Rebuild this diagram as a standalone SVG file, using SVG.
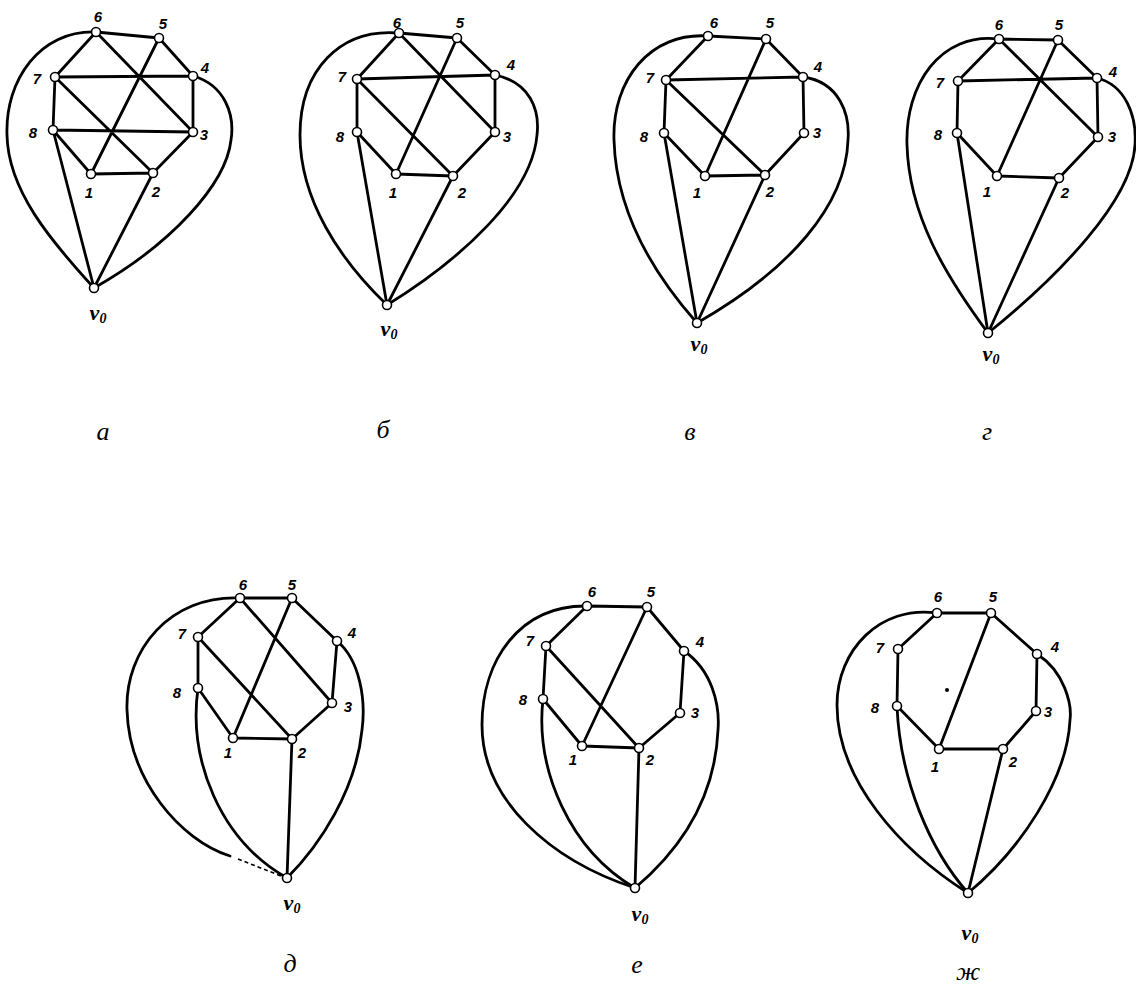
<svg xmlns="http://www.w3.org/2000/svg" width="1136" height="1004" viewBox="0 0 1136 1004">
<style>
.e{stroke:#000;stroke-width:2.8;fill:none;stroke-linecap:round}
.d{stroke:#000;stroke-width:1.6;fill:none;stroke-dasharray:4 3}
.node circle{fill:#fff;stroke:#000;stroke-width:1.6}
.node text{font-family:"Liberation Sans",Arial,sans-serif;font-style:italic;font-weight:bold;font-size:15px;text-anchor:middle;fill:#000}
.node text.v{font-family:"Liberation Serif","Times New Roman",serif;font-style:italic;font-weight:bold;font-size:22px;text-anchor:middle;fill:#000}
.cap{font-family:"Liberation Serif","Times New Roman",serif;font-style:italic;font-size:26px;text-anchor:middle;fill:#000}
</style>
<rect width="1136" height="1004" fill="#fff"/>

<!-- а -->
<g id="fig-a">
<g id="a-edges" class="connectors">
<path class="e" d="M96,32 L159,38 M96,32 L55,77 M96,32 L193,132 M159,38 L193,76 M159,38 L91,174 M55,77 L193,76 M55,77 L53,130 M55,77 L153,173 M53,130 L193,132 M53,130 L91,174 M53,130 L94,288 M193,76 L193,132 M193,132 L153,173 M91,174 L153,173 M153,173 L94,288"/>
<path class="e" d="M96,32 C40,30 5,80 7,135 C8,190 50,240 94,288"/>
<path class="e" d="M193,76 C225,85 235,115 231,140 C226,185 170,245 94,288"/>
</g>
<g id="a-n6" class="node"><circle cx="96" cy="32" r="4.5"/><text x="98" y="22">6</text></g>
<g id="a-n5" class="node"><circle cx="159" cy="38" r="4.5"/><text x="163" y="29">5</text></g>
<g id="a-n4" class="node"><circle cx="193" cy="76" r="4.5"/><text x="205" y="73">4</text></g>
<g id="a-n7" class="node"><circle cx="55" cy="77" r="4.5"/><text x="37" y="84">7</text></g>
<g id="a-n8" class="node"><circle cx="53" cy="130" r="4.5"/><text x="33" y="138">8</text></g>
<g id="a-n3" class="node"><circle cx="193" cy="132" r="4.5"/><text x="204" y="140">3</text></g>
<g id="a-n1" class="node"><circle cx="91" cy="174" r="4.5"/><text x="89" y="198">1</text></g>
<g id="a-n2" class="node"><circle cx="153" cy="173" r="4.5"/><text x="156" y="197">2</text></g>
<g id="a-v0" class="node"><circle cx="94" cy="288" r="4.5"/><text class="v" x="98" y="320">v<tspan font-size="14" dy="3">0</tspan></text></g>
<text class="cap" x="103" y="440">а</text>
</g>

<!-- б -->
<g id="fig-b">
<g id="b-edges" class="connectors">
<path class="e" d="M399,33 L457,38 M399,33 L357,79 M399,33 L495,132 M457,38 L495,75 M457,38 L396,174 M357,79 L495,75 M357,79 L357,132 M357,79 L453,176 M357,132 L396,174 M357,132 L387,305 M495,75 L495,132 M495,132 L453,176 M396,174 L453,176 M453,176 L387,305"/>
<path class="e" d="M399,33 C340,28 300,70 300,135 C300,200 340,260 387,305"/>
<path class="e" d="M495,75 C530,82 540,110 537,135 C532,195 460,260 387,305"/>
</g>
<g id="b-n6" class="node"><circle cx="399" cy="33" r="4.5"/><text x="397" y="28">6</text></g>
<g id="b-n5" class="node"><circle cx="457" cy="38" r="4.5"/><text x="460" y="28">5</text></g>
<g id="b-n4" class="node"><circle cx="495" cy="75" r="4.5"/><text x="511" y="70">4</text></g>
<g id="b-n7" class="node"><circle cx="357" cy="79" r="4.5"/><text x="342" y="82">7</text></g>
<g id="b-n8" class="node"><circle cx="357" cy="132" r="4.5"/><text x="340" y="142">8</text></g>
<g id="b-n3" class="node"><circle cx="495" cy="132" r="4.5"/><text x="507" y="142">3</text></g>
<g id="b-n1" class="node"><circle cx="396" cy="174" r="4.5"/><text x="393" y="198">1</text></g>
<g id="b-n2" class="node"><circle cx="453" cy="176" r="4.5"/><text x="462" y="198">2</text></g>
<g id="b-v0" class="node"><circle cx="387" cy="305" r="4.5"/><text class="v" x="389" y="336">v<tspan font-size="14" dy="3">0</tspan></text></g>
<text class="cap" x="383" y="438">б</text>
</g>

<!-- в -->
<g id="fig-v">
<g id="v-edges" class="connectors">
<path class="e" d="M708,36 L766,39 M708,36 L666,80 M766,39 L803,77 M766,39 L705,176 M666,80 L803,77 M666,80 L664,133 M666,80 L765,175 M664,133 L705,176 M664,133 L697,323 M803,77 L804,133 M804,133 L765,175 M705,176 L765,175 M765,175 L697,323"/>
<path class="e" d="M708,36 C650,32 612,80 614,140 C616,210 650,270 697,323"/>
<path class="e" d="M803,77 C840,82 850,115 848,140 C846,205 790,270 697,323"/>
</g>
<g id="v-n6" class="node"><circle cx="708" cy="36" r="4.5"/><text x="714" y="28">6</text></g>
<g id="v-n5" class="node"><circle cx="766" cy="39" r="4.5"/><text x="770" y="28">5</text></g>
<g id="v-n4" class="node"><circle cx="803" cy="77" r="4.5"/><text x="818" y="72">4</text></g>
<g id="v-n7" class="node"><circle cx="666" cy="80" r="4.5"/><text x="650" y="83">7</text></g>
<g id="v-n8" class="node"><circle cx="664" cy="133" r="4.5"/><text x="644" y="142">8</text></g>
<g id="v-n3" class="node"><circle cx="804" cy="133" r="4.5"/><text x="817" y="138">3</text></g>
<g id="v-n1" class="node"><circle cx="705" cy="176" r="4.5"/><text x="697" y="198">1</text></g>
<g id="v-n2" class="node"><circle cx="765" cy="175" r="4.5"/><text x="770" y="197">2</text></g>
<g id="v-v0" class="node"><circle cx="697" cy="323" r="4.5"/><text class="v" x="699" y="351">v<tspan font-size="14" dy="3">0</tspan></text></g>
<text class="cap" x="690" y="440">в</text>
</g>

<!-- г -->
<g id="fig-g">
<g id="g-edges" class="connectors">
<path class="e" d="M999,39 L1058,40 M999,39 L958,81 M999,39 L1098,137 M1058,40 L1097,78 M1058,40 L997,176 M958,81 L1097,78 M958,81 L957,133 M957,133 L997,176 M957,133 L988,333 M1097,78 L1098,137 M1098,137 L1059,178 M997,176 L1059,178 M1059,178 L988,333"/>
<path class="e" d="M999,39 C940,32 905,85 907,145 C909,215 945,275 988,333"/>
<path class="e" d="M1097,78 C1125,85 1137,115 1135,145 C1132,200 1060,275 988,333"/>
</g>
<g id="g-n6" class="node"><circle cx="999" cy="39" r="4.5"/><text x="999" y="30">6</text></g>
<g id="g-n5" class="node"><circle cx="1058" cy="40" r="4.5"/><text x="1059" y="30">5</text></g>
<g id="g-n4" class="node"><circle cx="1097" cy="78" r="4.5"/><text x="1113" y="77">4</text></g>
<g id="g-n7" class="node"><circle cx="958" cy="81" r="4.5"/><text x="940" y="88">7</text></g>
<g id="g-n8" class="node"><circle cx="957" cy="133" r="4.5"/><text x="938" y="140">8</text></g>
<g id="g-n3" class="node"><circle cx="1098" cy="137" r="4.5"/><text x="1112" y="142">3</text></g>
<g id="g-n1" class="node"><circle cx="997" cy="176" r="4.5"/><text x="987" y="197">1</text></g>
<g id="g-n2" class="node"><circle cx="1059" cy="178" r="4.5"/><text x="1065" y="198">2</text></g>
<g id="g-v0" class="node"><circle cx="988" cy="333" r="4.5"/><text class="v" x="991" y="361">v<tspan font-size="14" dy="3">0</tspan></text></g>
<text class="cap" x="987" y="440">г</text>
</g>

<!-- д -->
<g id="fig-d">
<g id="d-edges" class="connectors">
<path class="e" d="M240,598 L292,598 M240,598 L198,637 M240,598 L332,703 M292,598 L337,641 M292,598 L233,738 M198,637 L198,688 M198,637 L292,739 M198,688 L233,738 M337,641 L332,703 M332,703 L292,739 M233,738 L292,739 M292,739 L287,878"/>
<path class="e" d="M198,688 C188,760 220,840 287,878"/>
<path class="e" d="M240,598 C170,595 125,650 127,710 C129,780 180,840 230,856"/>
<path class="d" d="M238,859 L281,876"/>
<path class="e" d="M337,641 C360,660 366,700 362,730 C356,790 320,845 287,878"/>
</g>
<g id="d-n6" class="node"><circle cx="240" cy="598" r="4.5"/><text x="243" y="590">6</text></g>
<g id="d-n5" class="node"><circle cx="292" cy="598" r="4.5"/><text x="292" y="590">5</text></g>
<g id="d-n4" class="node"><circle cx="337" cy="641" r="4.5"/><text x="352" y="638">4</text></g>
<g id="d-n7" class="node"><circle cx="198" cy="637" r="4.5"/><text x="182" y="639">7</text></g>
<g id="d-n8" class="node"><circle cx="198" cy="688" r="4.5"/><text x="177" y="698">8</text></g>
<g id="d-n3" class="node"><circle cx="332" cy="703" r="4.5"/><text x="348" y="712">3</text></g>
<g id="d-n1" class="node"><circle cx="233" cy="738" r="4.5"/><text x="228" y="758">1</text></g>
<g id="d-n2" class="node"><circle cx="292" cy="739" r="4.5"/><text x="302" y="758">2</text></g>
<g id="d-v0" class="node"><circle cx="287" cy="878" r="4.5"/><text class="v" x="292" y="910">v<tspan font-size="14" dy="3">0</tspan></text></g>
<text class="cap" x="290" y="972">д</text>
</g>

<!-- е -->
<g id="fig-e">
<g id="e-edges" class="connectors">
<path class="e" d="M587,606 L647,607 M587,606 L546,646 M647,607 L684,651 M647,607 L582,746 M546,646 L543,699 M546,646 L639,748 M543,699 L582,746 M684,651 L680,713 M680,713 L639,748 M582,746 L639,748 M639,748 L635,888"/>
<path class="e" d="M543,699 C535,770 570,850 635,888"/>
<path class="e" d="M587,606 C520,605 482,660 482,725 C482,800 550,860 635,888"/>
<path class="e" d="M684,651 C712,670 720,705 718,730 C715,800 680,850 635,888"/>
</g>
<g id="e-n6" class="node"><circle cx="587" cy="606" r="4.5"/><text x="592" y="597">6</text></g>
<g id="e-n5" class="node"><circle cx="647" cy="607" r="4.5"/><text x="651" y="597">5</text></g>
<g id="e-n4" class="node"><circle cx="684" cy="651" r="4.5"/><text x="700" y="647">4</text></g>
<g id="e-n7" class="node"><circle cx="546" cy="646" r="4.5"/><text x="530" y="646">7</text></g>
<g id="e-n8" class="node"><circle cx="543" cy="699" r="4.5"/><text x="523" y="705">8</text></g>
<g id="e-n3" class="node"><circle cx="680" cy="713" r="4.5"/><text x="695" y="718">3</text></g>
<g id="e-n1" class="node"><circle cx="582" cy="746" r="4.5"/><text x="573" y="765">1</text></g>
<g id="e-n2" class="node"><circle cx="639" cy="748" r="4.5"/><text x="650" y="765">2</text></g>
<g id="e-v0" class="node"><circle cx="635" cy="888" r="4.5"/><text class="v" x="640" y="921">v<tspan font-size="14" dy="3">0</tspan></text></g>
<text class="cap" x="637" y="973">е</text>
</g>

<!-- ж -->
<g id="fig-zh">
<g id="zh-edges" class="connectors">
<path class="e" d="M937,613 L991,613 M937,613 L898,649 M991,613 L1037,654 M991,613 L939,749 M898,649 L897,706 M897,706 L939,749 M1037,654 L1036,711 M1036,711 L1003,749 M939,749 L1003,749 M1003,749 L968,893"/>
<path class="e" d="M897,706 C900,780 930,850 968,893"/>
<path class="e" d="M937,613 C880,605 837,650 837,705 C837,780 900,850 968,893"/>
<path class="e" d="M1037,654 C1065,672 1072,705 1070,720 C1067,780 1020,850 968,893"/>
</g>
<circle cx="947" cy="690" r="2" fill="#000"/>
<g id="zh-n6" class="node"><circle cx="937" cy="613" r="4.5"/><text x="938" y="602">6</text></g>
<g id="zh-n5" class="node"><circle cx="991" cy="613" r="4.5"/><text x="993" y="602">5</text></g>
<g id="zh-n4" class="node"><circle cx="1037" cy="654" r="4.5"/><text x="1055" y="652">4</text></g>
<g id="zh-n7" class="node"><circle cx="898" cy="649" r="4.5"/><text x="880" y="653">7</text></g>
<g id="zh-n8" class="node"><circle cx="897" cy="706" r="4.5"/><text x="875" y="713">8</text></g>
<g id="zh-n3" class="node"><circle cx="1036" cy="711" r="4.5"/><text x="1048" y="717">3</text></g>
<g id="zh-n1" class="node"><circle cx="939" cy="749" r="4.5"/><text x="935" y="772">1</text></g>
<g id="zh-n2" class="node"><circle cx="1003" cy="749" r="4.5"/><text x="1013" y="767">2</text></g>
<g id="zh-v0" class="node"><circle cx="968" cy="893" r="4.5"/><text class="v" x="970" y="940">v<tspan font-size="14" dy="3">0</tspan></text></g>
<text class="cap" x="968" y="980">ж</text>
</g>
</svg>
